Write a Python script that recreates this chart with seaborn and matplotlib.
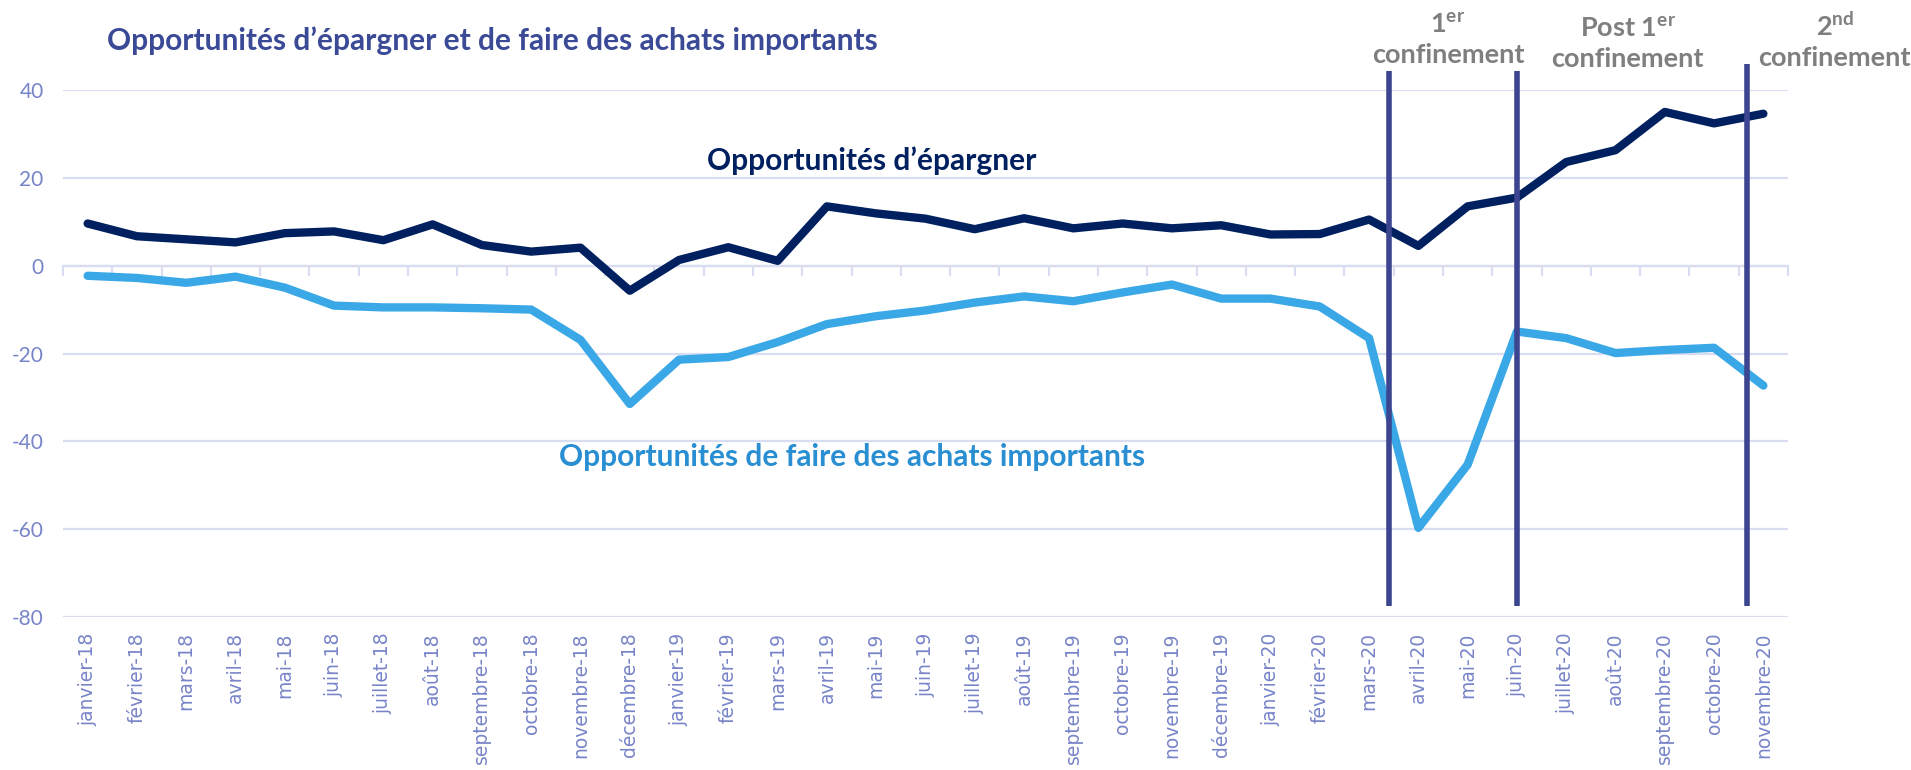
import matplotlib
matplotlib.use("Agg")
import matplotlib.pyplot as plt
import seaborn as sns
import pandas as pd

mois = ["janvier-18", "février-18", "mars-18", "avril-18", "mai-18", "juin-18",
        "juillet-18", "août-18", "septembre-18", "octobre-18", "novembre-18", "décembre-18",
        "janvier-19", "février-19", "mars-19", "avril-19", "mai-19", "juin-19",
        "juillet-19", "août-19", "septembre-19", "octobre-19", "novembre-19", "décembre-19",
        "janvier-20", "février-20", "mars-20", "avril-20", "mai-20", "juin-20",
        "juillet-20", "août-20", "septembre-20", "octobre-20", "novembre-20"]

epargner = [9.6, 6.7, 6.0, 5.3, 7.4, 7.8, 5.8, 9.4, 4.7, 3.2, 4.1, -5.7,
            1.3, 4.2, 1.1, 13.5, 11.9, 10.7, 8.3, 10.8, 8.5, 9.6, 8.5, 9.2,
            7.1, 7.2, 10.5, 4.5, 13.5, 15.5, 23.6, 26.3, 35.0, 32.4, 34.6]

achats = [-2.3, -2.8, -3.9, -2.5, -5.0, -9.1, -9.5, -9.5, -9.7, -10.0, -16.9, -31.5,
          -21.4, -20.8, -17.4, -13.3, -11.5, -10.2, -8.4, -7.0, -8.1, -6.1, -4.3, -7.5,
          -7.5, -9.3, -16.5, -59.7, -45.3, -15.0, -16.5, -19.9, -19.2, -18.7, -27.3]

series_noms = ["Opportunités d’épargner", "Opportunités de faire des achats importants"]
yticks = [-80, -60, -40, -20, 0, 20, 40]

# separateurs des periodes de confinement (en position de categorie)
separateurs = [26.4, 29.0, 33.66]
sep_hauts = [44.3, 44.3, 45.9]

periodes = ["1$^{\\mathbf{er}}$\nconfinement", "Post 1$^{\\mathbf{er}}$\nconfinement",
            "2$^{\\mathbf{nd}}$\nconfinement"]
periodes_x = [27.6, 31.25, 35.45]
periodes_y = [45.3, 44.3, 44.6]

sns.set_theme(style="white")
plt.rcParams['font.family'] = ['Lato', 'DejaVu Sans']
plt.rcParams['mathtext.fontset'] = 'custom'
plt.rcParams['mathtext.rm'] = 'Lato'
plt.rcParams['mathtext.bf'] = 'Lato:bold'

df = pd.DataFrame({
    "idx": list(range(len(mois))) * 2,
    "valeur": epargner + achats,
    "serie": [series_noms[0]] * len(mois) + [series_noms[1]] * len(mois),
})

fig = plt.figure(figsize=(19.11, 7.7), dpi=100)
ax = fig.add_axes([63 / 1911, 1 - 617 / 770, (1788 - 63) / 1911, (617 - 90) / 770])

grille = "#D9DDF2"
bleu_axe = "#7884C8"

for y in yticks:
    ax.axhline(y, color=grille, lw=1.6, zorder=0)

sns.lineplot(data=df, x="idx", y="valeur", hue="serie", ax=ax, legend=False,
             palette={series_noms[0]: "#002060", series_noms[1]: "#3AA8E6"},
             linewidth=6, zorder=3)

ax.set_xlim(-0.5, len(mois) - 0.5)
ax.set_ylim(-80, 40)
ax.set_yticks(yticks)
ax.set_yticklabels([str(v) for v in yticks], color=bleu_axe, fontsize=15)
ax.set_xticks(range(len(mois)))
ax.set_xticklabels(mois, rotation=90, color=bleu_axe, fontsize=13.5, family="DejaVu Sans")
ax.tick_params(axis="x", length=0, pad=11)
ax.tick_params(axis="y", length=0, pad=14)
ax.set_xlabel("")
ax.set_ylabel("")
for s in ax.spines.values():
    s.set_visible(False)

# axe horizontal a zero avec graduations
sec = ax.secondary_xaxis(0, transform=ax.transData)
sec.set_xticks([i - 0.5 for i in range(len(mois) + 1)])
sec.set_xticklabels([])
sec.tick_params(axis="x", length=7, width=1.6, color=grille, direction="out")
sec.spines["bottom"].set_color(grille)
sec.spines["bottom"].set_linewidth(1.6)

for xs, yh in zip(separateurs, sep_hauts):
    ax.plot([xs, xs], [yh, -77.5], color="#3B4590", lw=4, clip_on=False, zorder=5,
            solid_capstyle="butt")

for txt, xp, yp in zip(periodes, periodes_x, periodes_y):
    ax.text(xp, yp, txt, ha="center", va="bottom", color="#7F7F7F", fontsize=19.5,
            fontweight="bold", linespacing=1.3, clip_on=False)

ax.text(15.9, 24, series_noms[0], ha="center", va="center", color="#002060",
        fontsize=21.5, fontweight="bold")
ax.text(15.5, -43.5, series_noms[1], ha="center", va="center", color="#2A8FD2",
        fontsize=21.5, fontweight="bold")

fig.text(107 / 1911, 1 - 41 / 770, "Opportunités d’épargner et de faire des achats importants",
         ha="left", va="center", color="#3B4A96", fontsize=21.5, fontweight="bold")

fig.savefig("out.png", dpi=100)
